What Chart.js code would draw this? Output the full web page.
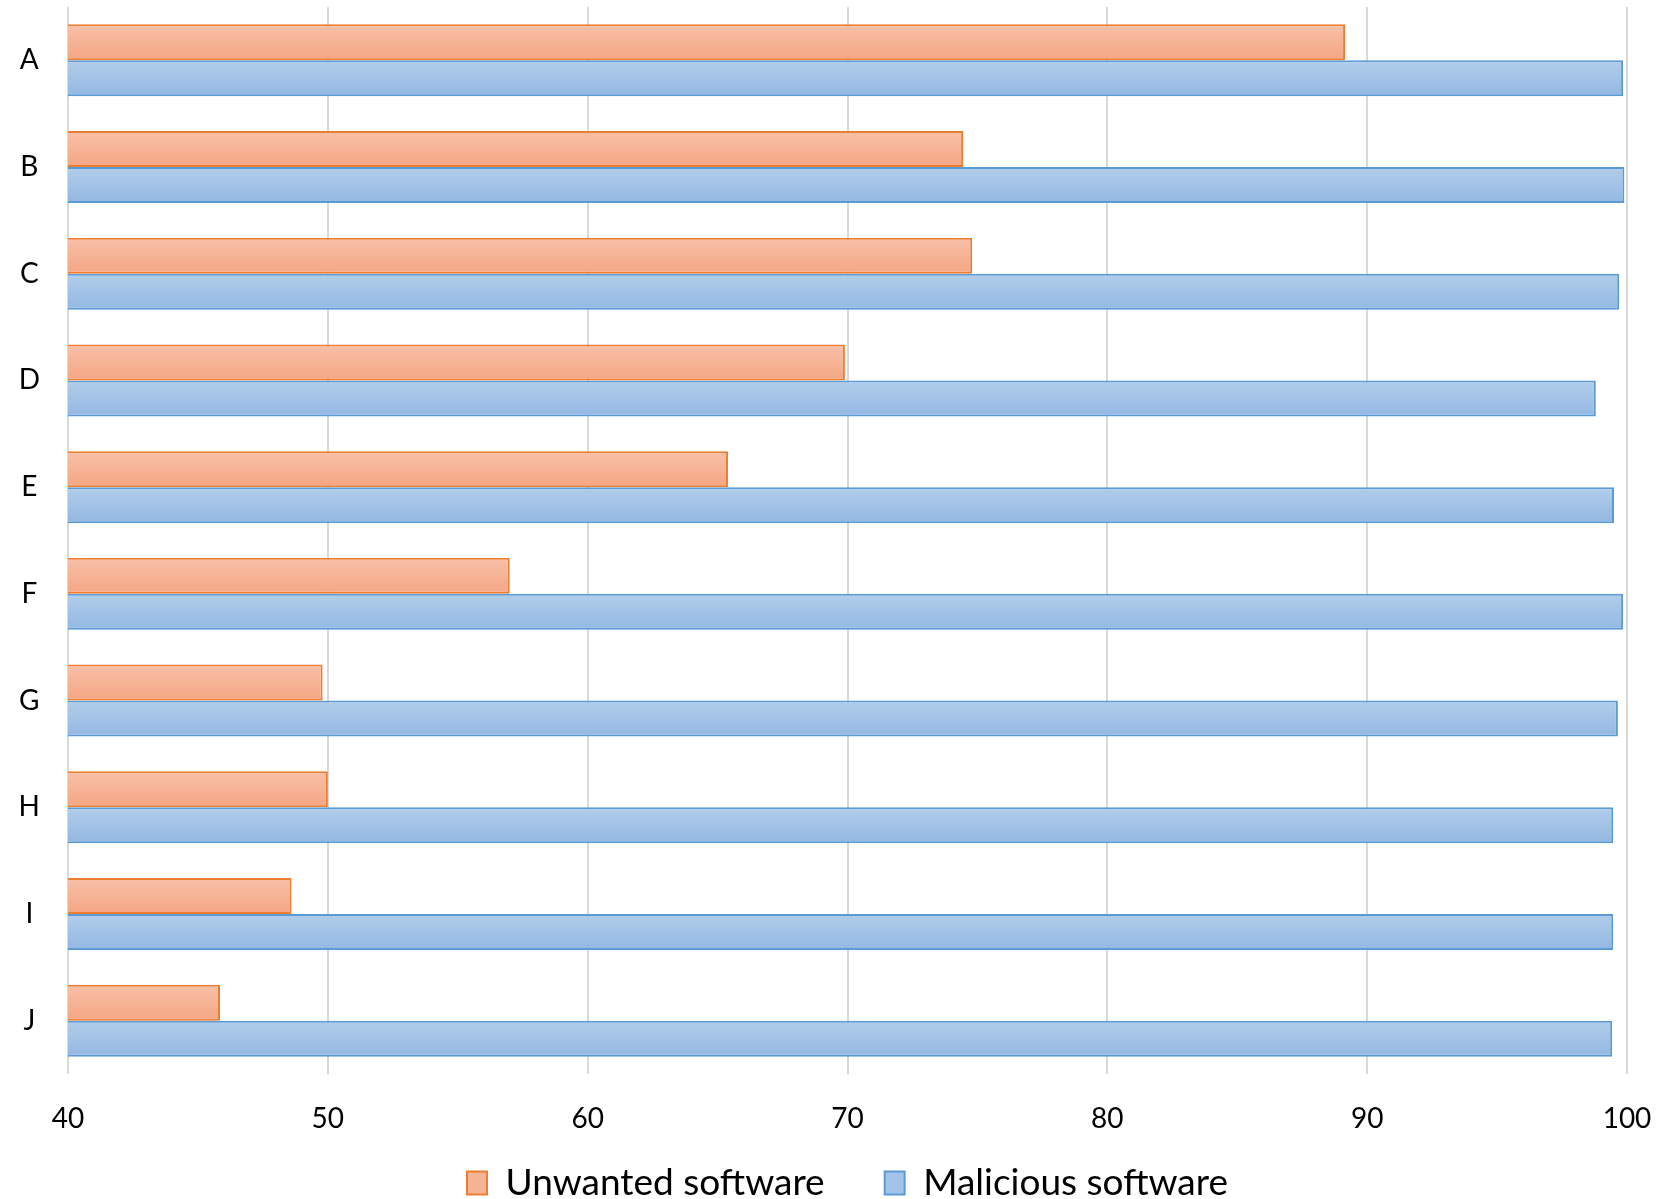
<!DOCTYPE html>
<html>
<head>
<meta charset="utf-8">
<script src="https://cdn.jsdelivr.net/npm/chart.js@4/dist/chart.umd.min.js"></script>
<style>
  html, body { margin: 0; padding: 0; background: #ffffff; }
  #wrap { width: 1675px; height: 1199px; position: relative; }
</style>
</head>
<body>
<div id="wrap"><canvas id="chart"></canvas></div>
<script>
const categories = ['A', 'B', 'C', 'D', 'E', 'F', 'G', 'H', 'I', 'J'];
const unwanted   = [89.15, 74.45, 74.8, 69.9, 65.4, 57.0, 49.8, 50.0, 48.6, 45.85];
const malicious  = [99.85, 99.9, 99.7, 98.8, 99.5, 99.85, 99.65, 99.47, 99.47, 99.43];
const seriesNames = ['Unwanted software', 'Malicious software'];
const xTicks = [40, 50, 60, 70, 80, 90, 100];

const FONT = 'Lato, "Open Sans", sans-serif';
const LEGEND_GAP = 60;      // horizontal space between legend entries
const LEGEND_HEIGHT = 61;   // vertical room reserved for the legend row
const LEGEND_TEXT_MID = 1183;

// Vertical gradient fill for each bar, built from the bar's own geometry
const gradientFills = [
  ['#f8c0a8', '#f4a683'],
  ['#b2cdea', '#93b8e3']
];
const barGradients = {
  id: 'barGradients',
  beforeDatasetsDraw(chart) {
    const ctx = chart.ctx;
    chart.data.datasets.forEach((ds, di) => {
      const meta = chart.getDatasetMeta(di);
      const stops = gradientFills[di];
      meta.data.forEach(el => {
        const top = el.y - el.height / 2;
        const bottom = el.y + el.height / 2;
        const g = ctx.createLinearGradient(0, top, 0, bottom);
        g.addColorStop(0, stops[0]);
        g.addColorStop(1, stops[1]);
        el.options = Object.assign({}, el.options, { backgroundColor: g });
      });
    });
  }
};

// Wide gap between legend entries without letting that gap inflate the row height
const legendRow = {
  id: 'legendRow',
  beforeLayout(chart) {
    const lg = chart.legend;
    if (lg && !lg.__rowFit) {
      const fit = lg.fit.bind(lg);
      lg.fit = function () { fit(); this.height = LEGEND_HEIGHT; };
      lg.__rowFit = true;
    }
  },
  afterLayout(chart) {
    const lg = chart.legend;
    if (!lg) return;
    const fontSize = lg.options.labels.font.size;
    const top = LEGEND_TEXT_MID - fontSize / 2 - LEGEND_GAP;
    lg.top = top;
    lg.bottom = top + 2 * LEGEND_GAP + fontSize;
    lg.height = lg.bottom - lg.top;
  }
};

function draw() {
  new Chart(document.getElementById('chart'), {
    type: 'bar',
    data: {
      labels: categories,
      datasets: [
        {
          label: seriesNames[0],
          data: unwanted,
          backgroundColor: '#f6b497',
          borderColor: '#ed7d31',
          borderWidth: 2,
          categoryPercentage: 0.675,
          barPercentage: 1.0
        },
        {
          label: seriesNames[1],
          data: malicious,
          backgroundColor: '#a4c3e8',
          borderColor: '#5b9bd5',
          borderWidth: 2,
          categoryPercentage: 0.675,
          barPercentage: 1.0
        }
      ]
    },
    options: {
      indexAxis: 'y',
      responsive: true,
      maintainAspectRatio: false,
      animation: false,
      layout: { padding: { top: 7, right: 0, left: 20, bottom: 0 } },
      scales: {
        x: {
          min: 40,
          max: 100,
          afterBuildTicks(scale) {
            scale.ticks = xTicks.map(v => ({ value: v }));
          },
          afterFit(scale) {
            scale.height = 64;
            scale.paddingRight = 48;
          },
          grid: { color: '#d9d9d9', lineWidth: 2, drawTicks: false },
          border: { display: false },
          ticks: {
            color: '#000000',
            font: { family: FONT, size: 28 },
            padding: 28,
            maxRotation: 0,
            autoSkip: false
          }
        },
        y: {
          grid: { display: false, drawTicks: false },
          border: { display: false },
          afterFit(scale) {
            scale.width = 48;
            scale.paddingTop = 0;
            scale.paddingBottom = 0;
          },
          ticks: {
            color: '#000000',
            font: { family: FONT, size: 28 },
            padding: 28,
            crossAlign: 'center'
          }
        }
      },
      plugins: {
        legend: {
          position: 'bottom',
          labels: {
            color: '#000000',
            font: { family: FONT, size: 37 },
            boxWidth: 20,
            boxHeight: 23,
            padding: LEGEND_GAP
          }
        },
        tooltip: { enabled: false }
      }
    },
    plugins: [barGradients, legendRow]
  });
}

if (document.fonts && document.fonts.load) {
  Promise.all([
    document.fonts.load('28px Lato'),
    document.fonts.load('37px Lato')
  ]).then(draw, draw);
} else {
  draw();
}
</script>
</body>
</html>
